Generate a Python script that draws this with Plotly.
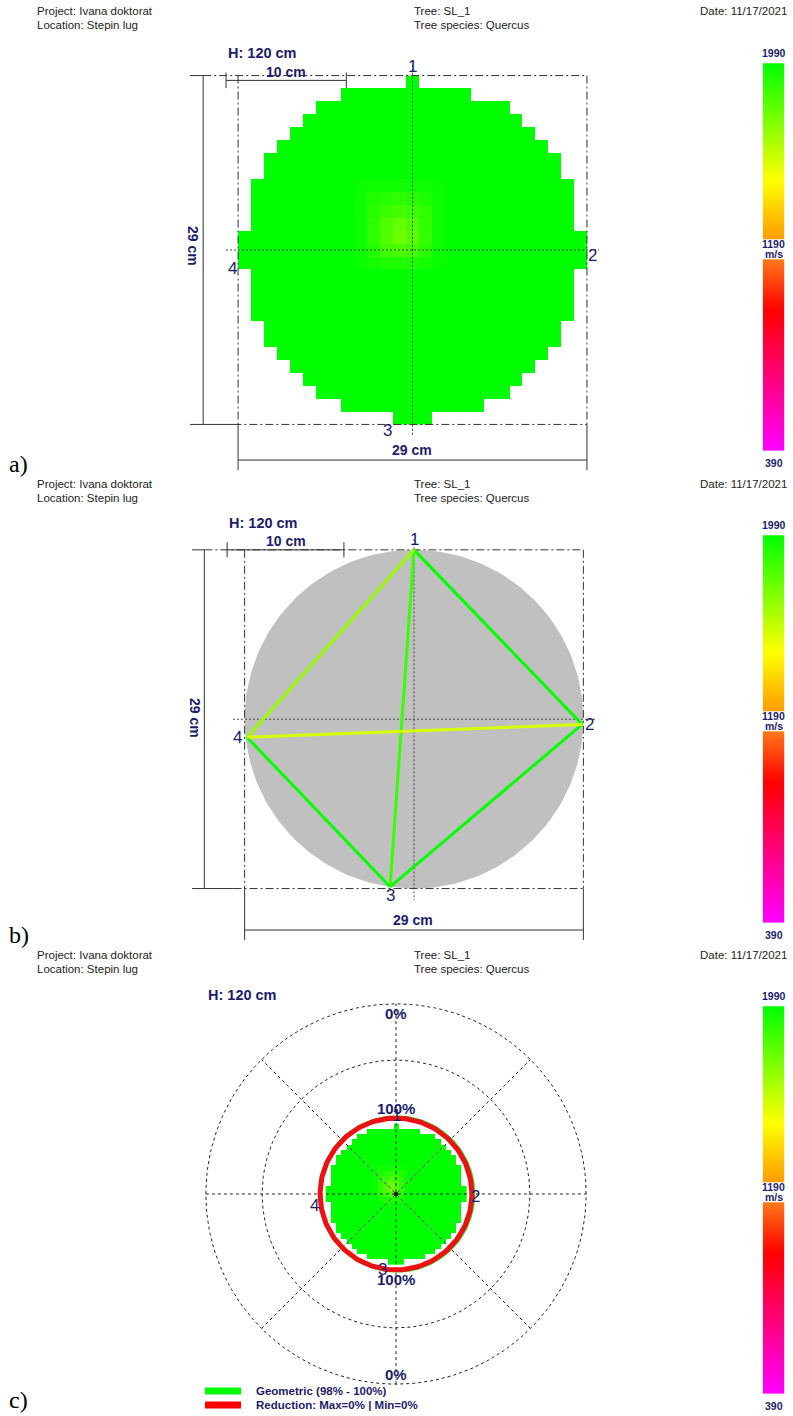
import numpy as np
import plotly.graph_objects as go

W, H = 793, 1416

# ---------------- data ----------------
PROJECT = "Ivana doktorat"
LOCATION = "Stepin lug"
TREE = "SL_1"
SPECIES = "Quercus"
DATE = "11/17/2021"
MEAS_HEIGHT_CM = 120
DIAMETER_CM = 29
SCALE_BAR_CM = 10
N_CELLS = 27
BASE_VELOCITY = 1990

# tomogram mask: first / last filled column per row (rows top -> bottom, index -13..13)
ROW_INDEX = list(range(-13, 14))
ROW_FIRST = [0, -5, -7, -8, -9, -10, -11, -11, -12, -12, -12, -12, -13, -13, -13,
             -12, -12, -12, -12, -11, -11, -10, -9, -8, -7, -5, -1]
ROW_LAST = [0, 4, 7, 8, 9, 10, 11, 11, 12, 12, 12, 12, 13, 13, 13,
            12, 12, 12, 12, 11, 11, 10, 9, 8, 7, 5, 1]

# slightly slower spot near the centre (m/s)
SPOT_ROWS = [-5, -4, -3, -2, -1, 0, 1]
SPOT_COLS = [-4, -3, -2, -1, 0, 1, 2]
SPOT_VALUES = [
    [1972, 1962, 1958, 1958, 1960, 1966, 1976],
    [1966, 1930, 1910, 1900, 1908, 1930, 1966],
    [1962, 1908, 1868, 1848, 1866, 1900, 1962],
    [1960, 1898, 1828, 1780, 1826, 1888, 1962],
    [1960, 1898, 1818, 1760, 1800, 1880, 1962],
    [1966, 1920, 1860, 1838, 1850, 1908, 1966],
    [1976, 1950, 1930, 1928, 1930, 1950, 1976],
]

SENSOR_LABELS = ["1", "2", "3", "4"]
SENSOR_X = [0.0, 14.4, -2.05, -14.3]
SENSOR_Y = [14.5, -0.45, -14.35, -1.55]

PATH_FROM = [1, 2, 3, 1, 4, 2]
PATH_TO = [2, 3, 4, 3, 1, 4]
PATH_VELOCITY = [1985, 1980, 1978, 1880, 1680, 1540]

CB_MAX, CB_MID, CB_MIN = 1990, 1190, 390
CB_UNIT = "m/s"

POLAR_RINGS_CM = [15.9, 27.6, 39.2]
POLAR_RING_LABELS = ["100%", None, "0%"]
REDUCTION_RADIUS_CM = 15.65
GEOMETRIC_RADIUS_CM = 15.95

LEGEND_LABELS = ["Geometric (98% - 100%)", "Reduction: Max=0% | Min=0%"]
LEGEND_COLORS = ["#00FF00", "#FF0000"]

# ---------------- style / layout ----------------
NAVY = "#1c1c6c"
FONT = "Arial, 'Liberation Sans', sans-serif"
SERIF = "'Times New Roman', 'Liberation Serif', serif"
LINE = "#333333"
DASHDOT = "8px,3px,2px,3px"
DOTTED = "2px,2px"

T = lambda v: (v - CB_MIN) / (CB_MAX - CB_MIN)
COLORSCALE = [
    [0.0, "#FF00FF"],
    [T(978), "#FF0000"],
    [T(CB_MID) - 0.0005, "#FF7818"],
    [T(CB_MID) + 0.0005, "#FF9C00"],
    [T(1458), "#FFFF00"],
    [1.0, "#00FF00"],
]


def vel_color(v):
    t = T(v)
    for (t0, c0), (t1, c1) in zip(COLORSCALE[:-1], COLORSCALE[1:]):
        if t0 <= t <= t1:
            f = 0 if t1 == t0 else (t - t0) / (t1 - t0)
            a = [int(c0[i:i + 2], 16) for i in (1, 3, 5)]
            b = [int(c1[i:i + 2], 16) for i in (1, 3, 5)]
            return "rgb(%d,%d,%d)" % tuple(round(a[k] + f * (b[k] - a[k])) for k in range(3))
    return COLORSCALE[-1][1]


PANELS = [
    dict(cx=412.5, cy=250.0, s=12.03, top=0, bot=472, off=0, hdr=11,
         dim_x=-17.4, dim_y=-17.46, bar_y=14.1, bar_x0=-15.5, ext=-18.5, tick_b=-18.3,
         h_lbl=(226, 53), bar_lbl=(286, 72), side_lbl=(193, 246), bot_lbl=(412, 450), tag=464,
         shifts=[(0, 9), (7, 0), (0, -8), (-8, 0)]),
    dict(cx=414.0, cy=719.2, s=11.68, top=472, bot=944, off=472, hdr=484,
         dim_x=-17.95, dim_y=-18.05, bar_y=14.5, bar_x0=-16.0, ext=-19.0, tick_b=-18.9,
         h_lbl=(227, 523), bar_lbl=(286, 541), side_lbl=(195, 718), bot_lbl=(413, 920), tag=935,
         shifts=[(0, 10), (7, 0), (0, -9), (-9, 0)]),
    dict(cx=396.0, cy=1194.0, s=4.85, top=944, bot=1416, off=943, hdr=955,
         h_lbl=(206, 995), tag=1400,
         shifts=[(0, 8), (10, 0), (-4, -6), (-12, -4)]),
]

fig = go.Figure()
axes_layout = {}


def add_axes(n, xdom, xr, ydom, yr):
    sfx = "" if n == 1 else str(n)
    axes_layout["xaxis" + sfx] = dict(domain=xdom, range=xr, visible=False, fixedrange=True, anchor="y" + sfx)
    axes_layout["yaxis" + sfx] = dict(domain=ydom, range=yr, visible=False, fixedrange=True, anchor="x" + sfx)
    return "x" + sfx, "y" + sfx


def P(x, y):
    return x / W, 1 - y / H


def text(x, y, s, size, color=NAVY, bold=False, xanchor="center", angle=0, family=FONT):
    px_, py_ = P(x, y)
    fig.add_annotation(xref="paper", yref="paper", x=px_, y=py_, text=("<b>%s</b>" % s) if bold else s,
                       showarrow=False, xanchor=xanchor, yanchor="middle", textangle=angle,
                       font=dict(family=family, size=size, color=color))


def line(xa, ya, xs, ys, color=LINE, width=1, dash="solid"):
    fig.add_trace(go.Scatter(x=xs, y=ys, mode="lines", xaxis=xa, yaxis=ya, hoverinfo="skip",
                             showlegend=False, line=dict(color=color, width=width, dash=dash)))


# tomogram grid
cell = DIAMETER_CM / N_CELLS
cols = np.arange(-(N_CELLS // 2), N_CELLS // 2 + 1)
Z = np.full((N_CELLS, N_CELLS), np.nan)
for ri, (r, c0, c1) in enumerate(zip(ROW_INDEX, ROW_FIRST, ROW_LAST)):
    for c in range(c0, c1 + 1):
        Z[ri, c + N_CELLS // 2] = BASE_VELOCITY
for i, r in enumerate(SPOT_ROWS):
    for j, c in enumerate(SPOT_COLS):
        ri, ci = ROW_INDEX.index(r), c + N_CELLS // 2
        if not np.isnan(Z[ri, ci]):
            Z[ri, ci] = SPOT_VALUES[i][j]
xc = cols * cell
yc = -np.array(ROW_INDEX) * cell
Zu, yu = Z[::-1], yc[::-1]

R = DIAMETER_CM / 2
theta = np.linspace(0, 2 * np.pi, 241)

axn = 1
for k, p in enumerate(PANELS):
    xa, ya = add_axes(axn, [0, 1], [-p["cx"] / p["s"], (W - p["cx"]) / p["s"]],
                      [1 - p["bot"] / H, 1 - p["top"] / H],
                      [(p["cy"] - p["bot"]) / p["s"], (p["cy"] - p["top"]) / p["s"]])
    axn += 1

    if k == 0 or k == 2:
        fig.add_trace(go.Heatmap(x=xc, y=yu, z=Zu, colorscale=COLORSCALE, zmin=CB_MIN, zmax=CB_MAX,
                                 showscale=False, xaxis=xa, yaxis=ya, hoverinfo="skip", zsmooth=False))
    if k == 1:
        fig.add_trace(go.Scatter(x=R * np.cos(theta), y=R * np.sin(theta), mode="lines", fill="toself",
                                 fillcolor="#C0C0C0", line=dict(width=0, color="#C0C0C0"),
                                 xaxis=xa, yaxis=ya, hoverinfo="skip", showlegend=False))

    if k < 2:
        # dimension box and lines
        line(xa, ya, [p["dim_x"], R], [R, R], dash=DASHDOT)
        line(xa, ya, [p["dim_x"] + 2.5, R], [-R, -R], dash=DASHDOT)
        line(xa, ya, [-R, -R], [R, -R], dash=DASHDOT)
        line(xa, ya, [R, R], [R, -R], dash=DASHDOT)
        line(xa, ya, [p["ext"], p["dim_x"]], [R, R])
        line(xa, ya, [p["ext"], p["dim_x"] + 2.5], [-R, -R])
        line(xa, ya, [p["dim_x"], p["dim_x"]], [R, -R])
        line(xa, ya, [-R, -R], [-R, p["tick_b"]])
        line(xa, ya, [R, R], [-R, p["tick_b"]])
        line(xa, ya, [-R, R], [p["dim_y"], p["dim_y"]])
        b0, b1 = p["bar_x0"], p["bar_x0"] + SCALE_BAR_CM
        line(xa, ya, [b0, b1], [p["bar_y"], p["bar_y"]])
        line(xa, ya, [b0, b0], [p["bar_y"] + 0.65, p["bar_y"] - 0.65])
        line(xa, ya, [b1, b1], [p["bar_y"] + 0.65, p["bar_y"] - 0.65])
        # crosshair
        line(xa, ya, [-15.5, 15.5], [0, 0], color="#444444", dash=DOTTED)
        line(xa, ya, [0, 0], [15.4, -15.5], color="#444444", dash=DOTTED)
        text(*p["bar_lbl"], "%d cm" % SCALE_BAR_CM, 14, bold=True)
        text(*p["side_lbl"], "%d cm" % DIAMETER_CM, 14, bold=True, angle=90)
        text(*p["bot_lbl"], "%d cm" % DIAMETER_CM, 14, bold=True)

    if k == 1:
        for a, b, v in zip(PATH_FROM, PATH_TO, PATH_VELOCITY):
            line(xa, ya, [SENSOR_X[a - 1], SENSOR_X[b - 1]], [SENSOR_Y[a - 1], SENSOR_Y[b - 1]],
                 color=vel_color(v), width=3)

    if k == 2:
        for rr in POLAR_RINGS_CM:
            line(xa, ya, rr * np.cos(theta), rr * np.sin(theta), color="#222222", dash="3px,3px")
        rmax = POLAR_RINGS_CM[-1]
        for ang in range(0, 180, 45):
            a = np.deg2rad(ang)
            line(xa, ya, [-rmax * np.cos(a), rmax * np.cos(a)], [-rmax * np.sin(a), rmax * np.sin(a)],
                 color="#222222", dash="3px,3px")
        line(xa, ya, GEOMETRIC_RADIUS_CM * np.cos(theta) + 0.15, GEOMETRIC_RADIUS_CM * np.sin(theta),
             color="#33DD33", width=2.5)
        line(xa, ya, REDUCTION_RADIUS_CM * np.cos(theta), REDUCTION_RADIUS_CM * np.sin(theta),
             color="#EE1111", width=5)
        fig.add_trace(go.Scatter(x=[0], y=[0], mode="markers", marker=dict(size=4, color="#111111"),
                                 xaxis=xa, yaxis=ya, hoverinfo="skip", showlegend=False))
        for rr, lbl in zip(POLAR_RINGS_CM, POLAR_RING_LABELS):
            if lbl is None:
                continue
            shift = 8 if lbl == "100%" else -10
            for sign in (1, -1):
                fig.add_annotation(xref=xa, yref=ya, x=0, y=sign * rr, text="<b>%s</b>" % lbl,
                                   showarrow=False, yshift=sign * shift,
                                   font=dict(family=FONT, size=15, color=NAVY))
        # legend
        for i, (lbl, col) in enumerate(zip(LEGEND_LABELS, LEGEND_COLORS)):
            yy = 1391 + 14 * i
            x0, y0 = P(205, yy - 3.5)
            x1, y1 = P(241, yy + 3.5)
            fig.add_shape(type="rect", xref="paper", yref="paper", x0=x0, x1=x1, y0=y0, y1=y1,
                          fillcolor=col, line=dict(width=0))
            text(254, yy, lbl, 11.5, bold=True, xanchor="left")

    # sensor labels
    for lbl, sx, sy, (dx, dy) in zip(SENSOR_LABELS, SENSOR_X, SENSOR_Y, p["shifts"]):
        fig.add_annotation(xref=xa, yref=ya, x=sx, y=sy, text=lbl, showarrow=False,
                           xshift=dx, yshift=dy, font=dict(family=FONT, size=17, color=NAVY))

    # header
    o = p["hdr"]
    text(35, o, "Project: " + PROJECT, 11.5, color="#222222", xanchor="left")
    text(35, o + 14, "Location: " + LOCATION, 11.5, color="#222222", xanchor="left")
    text(412, o, "Tree: " + TREE, 11.5, color="#222222", xanchor="left")
    text(412, o + 14, "Tree species: " + SPECIES, 11.5, color="#222222", xanchor="left")
    text(789, o, "Date: " + DATE, 11.5, color="#222222", xanchor="right")
    text(p["h_lbl"][0], p["h_lbl"][1], "H: %d cm" % MEAS_HEIGHT_CM, 14.5, bold=True, xanchor="left")
    text(7, p["tag"], "abc"[k] + ")", 24, color="#000000", xanchor="left", family=SERIF)

    # colour bar
    off = p["off"]
    for (v0, v1, top, bot) in [(CB_MID, CB_MAX, 63.3, 239.3), (CB_MIN, CB_MID, 259.3, 450.7)]:
        vals = np.linspace(v0, v1, 200)
        cxa, cya = add_axes(axn, [762.7 / W, 784.3 / W], [-0.5, 0.5],
                            [1 - (bot + off) / H, 1 - (top + off) / H], [v0, v1])
        axn += 1
        fig.add_trace(go.Heatmap(x=[0], y=vals, z=vals.reshape(-1, 1), colorscale=COLORSCALE,
                                 zmin=CB_MIN, zmax=CB_MAX, showscale=False, xaxis=cxa, yaxis=cya,
                                 hoverinfo="skip", zsmooth=False))
    text(773.5, 53 + off, str(CB_MAX), 10.5, bold=True)
    text(773.5, 244 + off, str(CB_MID), 10.5, bold=True)
    text(773.5, 254 + off, CB_UNIT, 10.5, bold=True)
    text(773.5, 463 + off, str(CB_MIN), 10.5, bold=True)

fig.update_layout(width=W, height=H, autosize=False, margin=dict(l=0, r=0, t=0, b=0),
                  paper_bgcolor="white", plot_bgcolor="white", showlegend=False, **axes_layout)
fig.write_html("out.html", config={"displayModeBar": False, "staticPlot": True},
               post_script="document.body.style.margin='0px';document.body.style.overflow='hidden';")
